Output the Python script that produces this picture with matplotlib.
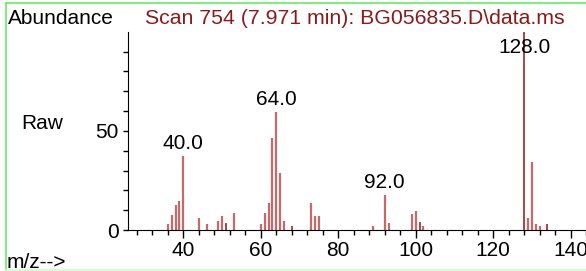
import matplotlib.pyplot as plt
from matplotlib.ticker import MultipleLocator, FixedLocator

plt.rcParams['font.family'] = ['Liberation Sans', 'DejaVu Sans']

# spectre de masse (m/z, abondance relative)
mz = [36, 37, 38, 39, 40, 44, 46, 49, 50, 51, 53, 60, 61, 62, 63, 64, 65, 66,
      68, 73, 74, 75, 89, 92, 93, 99, 100, 101, 102, 128, 129, 130, 131, 132, 134]
abondance = [2.8, 7.8, 12.5, 14.5, 37.5, 5.8, 2.8, 4.7, 7.0, 3.7, 8.8, 2.8, 8.8,
             13.7, 46.5, 59.5, 28.7, 4.7, 2.0, 13.7, 7.0, 7.0, 2.0, 17.8, 3.7,
             8.0, 9.8, 3.8, 2.0, 100.0, 6.2, 34.5, 2.8, 2.0, 2.8]
pics = [40, 64, 92, 128]  # pics annotés
sombres = [51, 68, 101, 128, 134]

titre = "Scan 754 (7.971 min): BG056835.D\\data.ms"
rouge = "#8b1a1a"

fig = plt.figure(figsize=(5.86, 2.71), dpi=100)
ax = fig.add_axes([128 / 586, 1 - 230 / 271, 1 - 128 / 586, (230 - 31.7) / 271])

for x, y in zip(mz, abondance):
    if x in sombres:
        ax.vlines(x, 0, y, color="#9b0f0f", lw=1.1, clip_on=False)
    else:
        ax.vlines(x, 0, y, color="#c46a6a", lw=1.6, clip_on=False)

for p in pics:
    y = abondance[mz.index(p)]
    ax.annotate(f"{p:.1f}", (p, min(y, 86)), xytext=(0, 2),
                textcoords="offset points", ha="center", va="bottom",
                fontsize=15)

ax.set_xlim(25.7, 144)
ax.set_ylim(0, 100)
ax.spines["top"].set_visible(False)
ax.spines["right"].set_visible(False)
ax.xaxis.set_major_locator(MultipleLocator(20))
ax.xaxis.set_minor_locator(MultipleLocator(4))
ax.yaxis.set_major_locator(FixedLocator([0, 50]))
ax.yaxis.set_minor_locator(FixedLocator([10, 20, 30, 40, 60, 70, 80, 90]))
ax.tick_params(axis="x", which="major", length=6, width=1, pad=2, labelsize=15)
ax.tick_params(axis="x", which="minor", length=3.5, width=1)
ax.tick_params(axis="y", which="both", length=3.5, width=1, pad=3, labelsize=15)

fig.text(8 / 586, 1 - 18 / 271, "Abundance", fontsize=15, va="center")
fig.text(145 / 586, 1 - 19 / 271, titre, fontsize=15.3, va="center", color=rouge)
fig.text(21 / 586, 1 - 123 / 271, "Raw", fontsize=15, va="center")
fig.text(7 / 586, 1 - 262 / 271, "m/z-->", fontsize=15, va="center")

# cadre vert
fig.add_artist(plt.Line2D([6 / 586, 1], [1 - 3 / 271] * 2, color="#66ee66", lw=1.2))
fig.add_artist(plt.Line2D([6 / 586] * 2, [1 - 270 / 271, 1 - 3 / 271], color="#66ee66", lw=1.2))
fig.add_artist(plt.Line2D([6 / 586, 1], [1 - 270 / 271] * 2, color="#ccffcc", lw=1.2))

fig.savefig("out.png", dpi=100)
